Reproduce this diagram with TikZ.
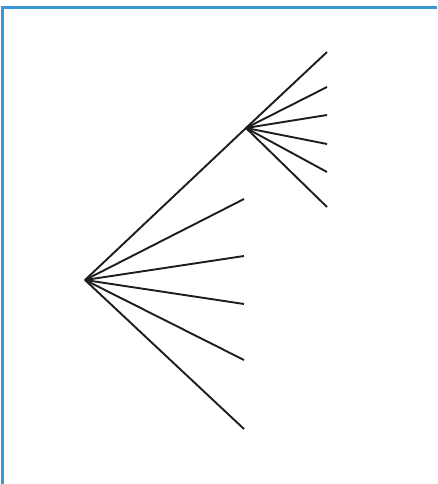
\documentclass[tikz,border=0pt]{standalone}
\usepackage{tikz}
\usetikzlibrary{positioning}
\tikzset{
  branch/.style={line width=1.9pt, draw={rgb,255:red,30;green,28;blue,28}, line cap=butt},
  frameline/.style={line width=2.6pt, draw={rgb,255:red,58;green,150;blue,212}}
}

\begin{document}
\begin{tikzpicture}[x=1pt, y=-1pt]
  \useasboundingbox (0,0) rectangle (437,484);
  % frame (only top and left edges show)
  \draw[frameline] (437,7.5) -- (2.6,7.5) -- (2.6,484);
  % branching points
  \coordinate (root) at (85,280);
  \coordinate (mid) at (246,128);
  % first fan
  \draw[branch] (root) -- (mid);
  \foreach \y [count=\i] in {199,256,304,360,429} {
    \coordinate (leafA\i) at (244,\y);
    \draw[branch] (root) -- (leafA\i);
  }
  % second fan
  \foreach \y [count=\i] in {52,87,115,144,172,207} {
    \coordinate (leafB\i) at (327,\y);
    \draw[branch] (mid) -- (leafB\i);
  }
\end{tikzpicture}
\end{document}
